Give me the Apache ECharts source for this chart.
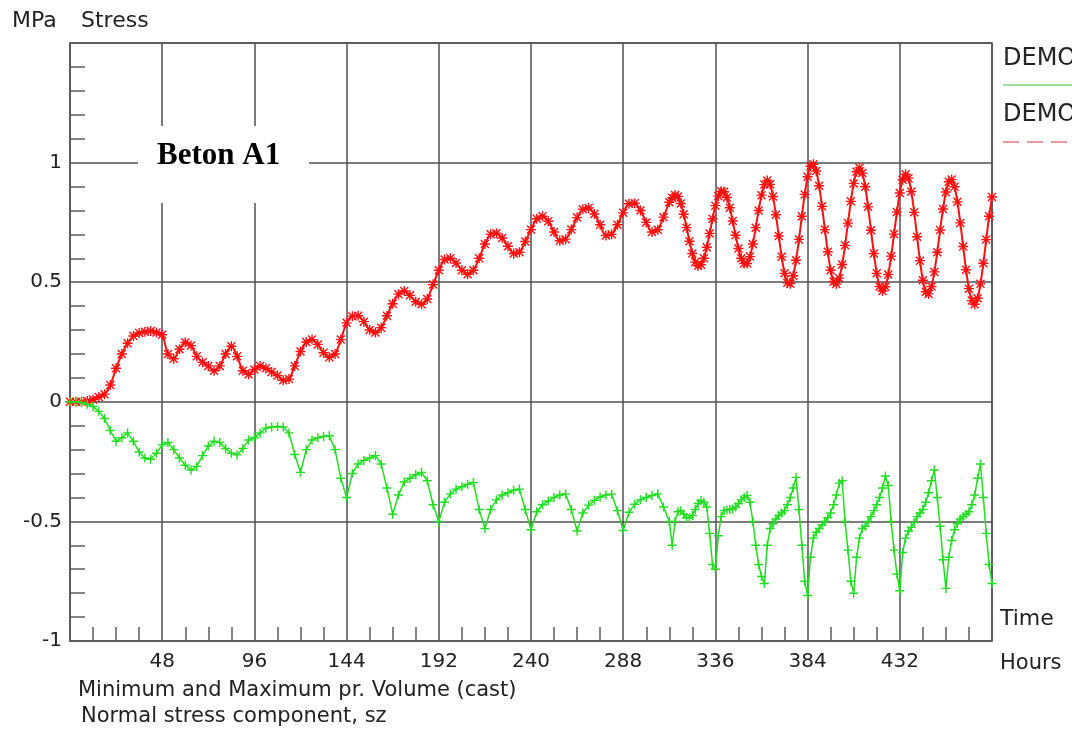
<!DOCTYPE html>
<html>
<head>
<meta charset="utf-8">
<script src="https://cdn.jsdelivr.net/npm/echarts@6/dist/echarts.min.js"></script>
<style>
html,body{margin:0;padding:0;background:#fff;}
#chart{width:1072px;height:735px;}
</style>
</head>
<body>
<div id="chart"></div>
<script>
// Time in hours
const hours = [
  0,3,6,9,12,15,18,21,
  24,27,30,33,36,39,42,45,
  48,51,54,57,60,63,66,69,
  72,75,78,81,84,87,90,93,
  96,99,102,105,108,111,114,117,
  120,123,126,129,132,135,138,141,
  144,147,150,153,156,159,162,165,
  168,171,174,177,180,183,186,189,
  192,195,198,201,204,207,210,213,
  216,219,222,225,228,231,234,237,
  240,243,246,249,252,255,258,261,
  264,267,270,273,276,279,282,285,
  288,291,294,297,300,303,306,309,
  312,
  313.5,315,316.5,318,319.5,321,322.5,324,325.5,327,328.5,330,331.5,333,334.5,336,
  337.5,339,340.5,342,343.5,345,346.5,348,349.5,351,352.5,354,355.5,357,358.5,360,
  361.5,363,364.5,366,367.5,369,370.5,372,373.5,375,376.5,378,379.5,381,382.5,384,
  385.5,387,388.5,390,391.5,393,394.5,396,397.5,399,400.5,402,403.5,405,406.5,408,
  409.5,411,412.5,414,415.5,417,418.5,420,421.5,423,424.5,426,427.5,429,430.5,432,
  433.5,435,436.5,438,439.5,441,442.5,444,445.5,447,448.5,450,451.5,453,454.5,456,
  457.5,459,460.5,462,463.5,465,466.5,468,469.5,471,472.5,474,475.5,477,478.5,480
];

// Maximum normal stress (red), MPa
const maxStress = [
  0,0,0,0.003,0.01,0.02,0.032,0.07,
  0.14,0.2,0.245,0.275,0.288,0.293,0.296,0.29,
  0.28,0.2,0.18,0.22,0.248,0.235,0.19,0.165,
  0.15,0.13,0.15,0.2,0.232,0.19,0.13,0.115,
  0.135,0.15,0.14,0.125,0.11,0.09,0.095,0.15,
  0.21,0.25,0.26,0.24,0.205,0.186,0.2,0.26,
  0.33,0.358,0.36,0.335,0.3,0.29,0.31,0.36,
  0.41,0.45,0.463,0.445,0.418,0.408,0.43,0.49,
  0.55,0.595,0.6,0.58,0.55,0.533,0.55,0.6,
  0.66,0.7,0.705,0.685,0.65,0.62,0.625,0.67,
  0.72,0.765,0.776,0.755,0.71,0.673,0.68,0.72,
  0.77,0.805,0.81,0.785,0.74,0.695,0.7,0.74,
  0.79,0.828,0.83,0.8,0.75,0.71,0.719,0.772,
  0.834,
  0.852,0.865,0.858,0.829,0.784,0.728,0.671,0.62,0.584,0.569,0.573,0.6,0.646,0.704,0.765,0.82,
  0.86,0.88,0.878,0.854,0.811,0.756,0.696,0.641,0.6,0.578,0.578,0.607,0.66,0.728,0.8,0.864,
  0.908,0.925,0.909,0.858,0.782,0.693,0.606,0.537,0.498,0.494,0.527,0.592,0.679,0.776,0.867,0.941,
  0.985,0.993,0.965,0.903,0.817,0.72,0.627,0.55,0.503,0.492,0.517,0.574,0.654,0.747,0.838,0.913,
  0.962,0.978,0.956,0.899,0.815,0.717,0.62,0.537,0.482,0.463,0.481,0.532,0.609,0.701,0.793,0.873,
  0.928,0.951,0.935,0.879,0.792,0.69,0.59,0.508,0.46,0.451,0.482,0.543,0.625,0.718,0.806,0.877,
  0.92,0.929,0.899,0.836,0.748,0.649,0.552,0.473,0.423,0.408,0.433,0.493,0.579,0.678,0.776,0.856
];

// Minimum normal stress (green), MPa
const minStress = [
  0,0,-0.003,-0.01,-0.02,-0.04,-0.07,-0.12,
  -0.165,-0.15,-0.13,-0.165,-0.21,-0.235,-0.24,-0.215,
  -0.18,-0.17,-0.2,-0.235,-0.265,-0.285,-0.27,-0.225,
  -0.185,-0.165,-0.17,-0.195,-0.215,-0.222,-0.195,-0.16,
  -0.15,-0.13,-0.11,-0.105,-0.103,-0.105,-0.13,-0.22,
  -0.295,-0.2,-0.16,-0.15,-0.145,-0.142,-0.2,-0.32,
  -0.4,-0.3,-0.26,-0.245,-0.235,-0.225,-0.26,-0.36,
  -0.47,-0.39,-0.335,-0.32,-0.305,-0.295,-0.33,-0.43,
  -0.5,-0.42,-0.385,-0.365,-0.355,-0.345,-0.337,-0.45,
  -0.53,-0.45,-0.41,-0.39,-0.38,-0.37,-0.365,-0.45,
  -0.535,-0.46,-0.43,-0.415,-0.4,-0.39,-0.385,-0.45,
  -0.54,-0.465,-0.432,-0.412,-0.398,-0.39,-0.386,-0.455,
  -0.538,-0.462,-0.428,-0.41,-0.4,-0.392,-0.385,-0.44,
  -0.5,
  -0.6,-0.5,-0.46,-0.455,-0.47,-0.485,-0.485,-0.475,-0.45,-0.425,-0.413,-0.42,-0.44,-0.55,-0.68,-0.7,
  -0.56,-0.48,-0.455,-0.452,-0.45,-0.448,-0.44,-0.425,-0.41,-0.4,-0.392,-0.42,-0.5,-0.6,-0.68,-0.73,
  -0.76,-0.6,-0.53,-0.51,-0.49,-0.475,-0.465,-0.455,-0.43,-0.4,-0.36,-0.316,-0.45,-0.6,-0.75,-0.81,
  -0.65,-0.57,-0.545,-0.53,-0.515,-0.5,-0.485,-0.465,-0.43,-0.39,-0.34,-0.33,-0.5,-0.62,-0.75,-0.8,
  -0.65,-0.57,-0.53,-0.52,-0.5,-0.48,-0.455,-0.43,-0.4,-0.36,-0.31,-0.35,-0.5,-0.62,-0.72,-0.79,
  -0.63,-0.57,-0.54,-0.525,-0.505,-0.48,-0.465,-0.45,-0.42,-0.38,-0.33,-0.285,-0.4,-0.52,-0.66,-0.78,
  -0.65,-0.58,-0.535,-0.51,-0.49,-0.48,-0.47,-0.46,-0.43,-0.39,-0.32,-0.26,-0.4,-0.55,-0.68,-0.76
];

const seriesNames = ['DEMO', 'DEMO'];
const chartTitle = 'Beton A1';
const yUnit = 'MPa';
const yName = 'Stress';
const xName = 'Time';
const xUnit = 'Hours';
const note1 = 'Minimum and Maximum pr. Volume (cast)';
const note2 = 'Normal stress component, sz';

const FONT = 'DejaVu Sans';
const STAR = 'path://M0,4.3H10V5.7H0Z M4.3,0H5.7V10H4.3Z M1.5,0.5L9.5,8.5L8.5,9.5L0.5,1.5Z M8.5,0.5L9.5,1.5L1.5,9.5L0.5,8.5Z';
const PLUS = 'path://M0,4.2H10V5.8H0Z M4.2,0H5.8V10H4.2Z';

const redData = hours.map((h, i) => [h, maxStress[i]]);
const greenData = hours.map((h, i) => [h, minStress[i]]);

const chart = echarts.init(document.getElementById('chart'), null, {renderer: 'canvas'});

const gridColor = '#5c5c5c';
const textColor = '#222';

function txt(text, left, top, size, extra) {
  return Object.assign({
    type: 'text', left: left, top: top, z: 100,
    style: {text: text, font: size + 'px "' + FONT + '"', fill: textColor}
  }, extra || {});
}

chart.setOption({
  animation: false,
  backgroundColor: '#fff',
  grid: {left: 70, right: 80, top: 43, bottom: 94, show: true, borderColor: gridColor, borderWidth: 1.5},
  xAxis: {
    type: 'value', min: 0, max: 480, interval: 48,
    axisLine: {show: true, onZero: false, lineStyle: {color: gridColor, width: 1.5}},
    axisTick: {show: false, inside: true},
    minorTick: {show: true, splitNumber: 4, length: 14, lineStyle: {color: gridColor, width: 1.5}},
    splitLine: {show: true, lineStyle: {color: '#505050', width: 1.5}},
    axisLabel: {
      margin: 11, color: textColor, fontFamily: FONT, fontSize: 20,
      formatter: v => (v === 0 || v === 480) ? '' : String(v)
    }
  },
  yAxis: {
    type: 'value', min: -1, max: 1.5, interval: 0.5,
    axisLine: {show: true, onZero: false, lineStyle: {color: gridColor, width: 1.5}},
    axisTick: {show: false, inside: true},
    minorTick: {show: true, splitNumber: 5, length: 15, lineStyle: {color: gridColor, width: 1.5}},
    splitLine: {show: true, lineStyle: {color: '#505050', width: 1.5}},
    axisLabel: {
      margin: 8, color: textColor, fontFamily: FONT, fontSize: 20,
      formatter: v => (Math.abs(v - 1.5) < 1e-9) ? '' : String(v)
    }
  },
  series: [
    {
      name: seriesNames[1], type: 'line', data: redData,
      smooth: 0.3, symbol: STAR, symbolSize: 10, showSymbol: true,
      itemStyle: {color: '#ff1010'}, lineStyle: {color: '#ff1010', width: 2}, z: 3
    },
    {
      name: seriesNames[0], type: 'line', data: greenData,
      smooth: false, symbol: PLUS, symbolSize: 9, showSymbol: true,
      itemStyle: {color: '#22dd22'}, lineStyle: {color: '#22dd22', width: 1.5}, z: 4
    }
  ],
  graphic: [
    txt(yUnit, 12, 10, 22),
    txt(yName, 81, 10, 22),
    {type: 'rect', z: 90, shape: {x: 138, y: 126, width: 171, height: 77}, style: {fill: '#fff'}},
    {type: 'text', z: 100, left: 157, top: 140,
      style: {text: chartTitle, font: 'bold 31px "Liberation Serif"', fill: '#000'}},
    txt(xName, 1000, 608, 22),
    txt(xUnit, 1000, 653, 21),
    txt(note1, 78, 680, 21),
    txt(note2, 81, 706, 21),
    txt(seriesNames[0], 1003, 47, 24),
    {type: 'line', z: 100, shape: {x1: 1003, y1: 85, x2: 1080, y2: 85}, style: {stroke: '#7fd87f', lineWidth: 1.5}},
    txt(seriesNames[1], 1003, 103, 24),
    {type: 'line', z: 100, shape: {x1: 1003, y1: 142, x2: 1080, y2: 142}, style: {stroke: '#e07b7b', lineWidth: 1.5, lineDash: [16, 8]}}
  ]
});
</script>
</body>
</html>
